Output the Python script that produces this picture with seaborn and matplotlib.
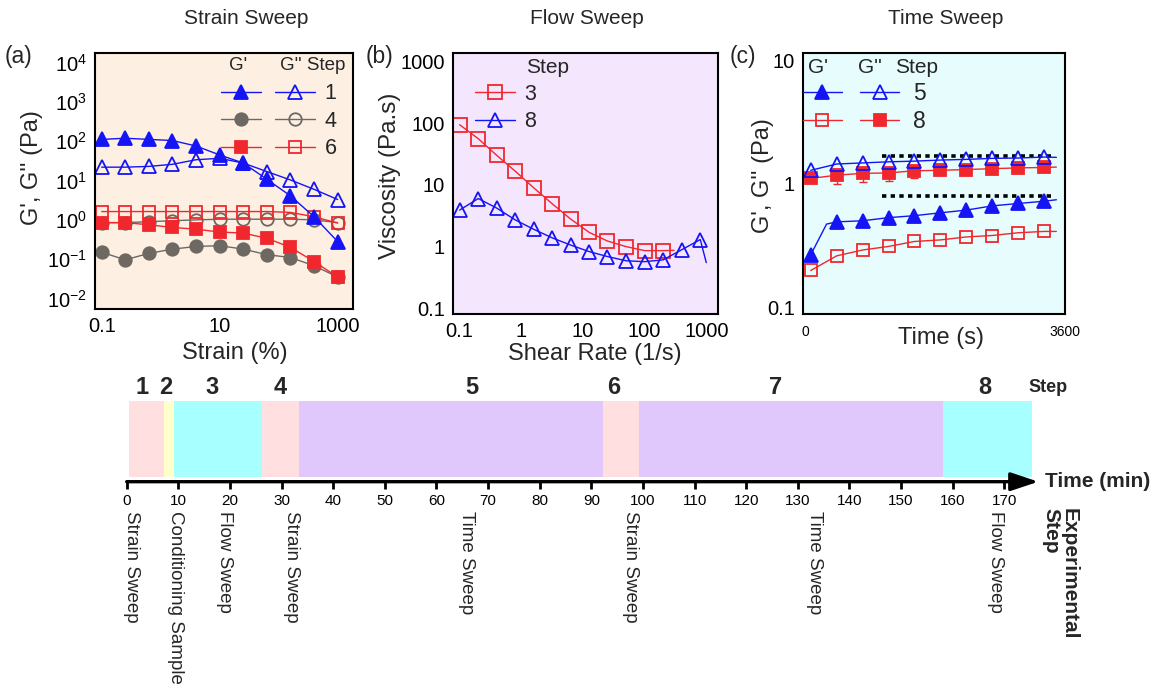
import matplotlib
matplotlib.use("Agg")
import matplotlib.pyplot as plt
from matplotlib.lines import Line2D
from matplotlib.ticker import FixedLocator, FuncFormatter
import numpy as np
import pandas as pd
import seaborn as sns

# ---------------- data ----------------
# (a) strain sweep
strain_pct = [0.1, 0.25, 0.63, 1.58, 3.98, 10, 25.1, 63.1, 158, 398, 1000]
step1_gp = [112, 120, 112, 105, 76, 45, 28, 10.8, 4.1, 1.2, 0.28]
step1_gpp = [22, 22, 23, 26, 34, 37, 28, 17, 10.4, 6.0, 3.3]
step4_gp = [0.15, 0.096, 0.14, 0.18, 0.21, 0.22, 0.18, 0.13, 0.11, 0.068, 0.035]
step4_gpp = [0.85, 0.85, 0.9, 0.95, 1.0, 1.04, 1.04, 1.04, 1.04, 1.0, 0.85]
step6_gp = [0.85, 0.85, 0.75, 0.64, 0.58, 0.49, 0.46, 0.34, 0.20, 0.087, 0.035]
step6_gpp = [1.63, 1.63, 1.63, 1.63, 1.63, 1.63, 1.63, 1.63, 1.55, 1.2, 0.83]

# (b) flow sweep (last point of each list is the end of the fitted line, no marker)
shear_rate_3 = [0.1, 0.2, 0.4, 0.8, 1.6, 3.2, 6.3, 12.6, 25, 50, 100, 200, 300]
visc_3 = [94, 56, 30, 16.6, 8.9, 4.9, 2.8, 1.7, 1.23, 1.0, 0.86, 0.86, 0.87]
shear_rate_8 = [0.1, 0.2, 0.4, 0.8, 1.6, 3.2, 6.3, 12.6, 25, 50, 100, 200, 400, 800, 1000]
visc_8 = [3.9, 6.0, 4.2, 2.7, 1.9, 1.38, 1.06, 0.83, 0.69, 0.59, 0.57, 0.61, 0.89, 1.3, 0.55]

# (c) time sweep (last point = end of line, no marker)
time_s = [70, 430, 790, 1150, 1510, 1870, 2230, 2590, 2950, 3310, 3480]
step5_gp_time = [70, 290, 430, 790, 1150, 1510, 1870, 2230, 2590, 2950, 3310, 3480]
step5_gp = [0.265, 0.47, 0.49, 0.50, 0.53, 0.55, 0.58, 0.61, 0.66, 0.69, 0.72, 0.74]
step5_gpp = [1.28, 1.44, 1.47, 1.50, 1.52, 1.55, 1.57, 1.60, 1.61, 1.64, 1.63]
step8_gp = [0.198, 0.26, 0.29, 0.31, 0.34, 0.35, 0.37, 0.38, 0.40, 0.41, 0.41]
step8_gpp = [1.10, 1.17, 1.21, 1.22, 1.27, 1.28, 1.30, 1.32, 1.34, 1.35, 1.36]
step8_gpp_err = [0, 0.18, 0.18, 0.17, 0.17, 0, 0, 0, 0, 0]
plateau_levels = [1.67, 0.79]
plateau_span = [1066, 3461]

# timeline
step_names = ["1", "2", "3", "4", "5", "6", "7", "8"]
step_start = [0.5, 7.2, 9.2, 26.3, 33.3, 92.2, 99.2, 158.2]
step_end = [7.2, 9.2, 26.3, 33.3, 92.2, 99.2, 158.2, 175.4]
step_num_pos = [2.9, 7.6, 16.5, 29.8, 66.8, 94.3, 125.6, 166.3]
step_types = ["Strain Sweep", "Conditioning Sample", "Flow Sweep", "Strain Sweep",
              "Time Sweep", "Strain Sweep", "Time Sweep", "Flow Sweep"]
step_type_pos = [1.0, 9.4, 19.0, 32.0, 65.9, 97.5, 133.3, 168.2]
time_ticks = list(range(0, 171, 10))

# ---------------- style ----------------
sns.set_theme(style="white")
plt.rcParams['font.family'] = ['Liberation Sans', 'DejaVu Sans']
plt.rcParams['mathtext.fontset'] = 'custom'
plt.rcParams['mathtext.rm'] = 'Liberation Sans'
plt.rcParams['mathtext.it'] = 'Liberation Sans'

BLUE = '#1414f5'
RED = '#f0282d'
GREY = '#6e6862'
PINK = '#ffdfe0'
YELLOW = '#ffffcc'
CYAN = '#a8ffff'
PURPLE = '#e0c8fd'
step_colors = [PINK, YELLOW, CYAN, PINK, PURPLE, PINK, PURPLE, CYAN]

W, H = 1159, 692
fig = plt.figure(figsize=(W / 100, H / 100), dpi=100)


def box(l, t, r, b):
    return [l / W, 1 - b / H, (r - l) / W, (b - t) / H]


def ftext(px, py, s, **kw):
    fig.text(px / W, 1 - py / H, s, **kw)


def style_axes(ax, bg):
    ax.set_facecolor(bg)
    for sp in ax.spines.values():
        sp.set_visible(True)
        sp.set_color('black')
        sp.set_linewidth(1.5)
    ax.tick_params(length=0, labelsize=14.5, pad=6, colors='black')


def series(ax, x, y, color, marker, filled, ms, mark_idx=None, lw=1.0):
    kw = dict(color=color, marker=marker, markersize=ms, linewidth=lw,
              markeredgecolor=color, markeredgewidth=1.3,
              markerfacecolor=color if filled else 'none')
    if mark_idx is not None:
        kw['markevery'] = mark_idx
    sns.lineplot(x=x, y=y, ax=ax, sort=False, estimator=None, **kw)


def handle(color, marker, filled, ms):
    return Line2D([], [], color=color, marker=marker, markersize=ms, linewidth=1.0,
                  markeredgecolor=color, markeredgewidth=1.3,
                  markerfacecolor=color if filled else 'none')


fmt = FuncFormatter(lambda v, p: f"{v:g}")

# ---------------- (a) strain sweep ----------------
axA = fig.add_axes(box(95, 53, 353, 309))
style_axes(axA, '#fdf0e3')
axA.set_xscale('log')
axA.set_yscale('log')
series(axA, strain_pct, step4_gpp, GREY, 'o', False, 9)
series(axA, strain_pct, step6_gpp, RED, 's', False, 9)
series(axA, strain_pct, step1_gpp, BLUE, '^', False, 10)
series(axA, strain_pct, step4_gp, GREY, 'o', True, 9)
series(axA, strain_pct, step6_gp, RED, 's', True, 9)
series(axA, strain_pct, step1_gp, BLUE, '^', True, 10)
axA.set_xlim(0.077, 1820)
axA.set_ylim(10 ** -2.27, 10 ** 4.25)
axA.xaxis.set_major_locator(FixedLocator([0.1, 10, 1000]))
axA.xaxis.set_major_formatter(fmt)
axA.xaxis.set_minor_locator(FixedLocator([]))
axA.yaxis.set_major_locator(FixedLocator([1e-2, 1e-1, 1, 10, 100, 1e3, 1e4]))
axA.yaxis.set_minor_locator(FixedLocator([]))
axA.set_xlabel('')
axA.set_ylabel('')
hA = [handle(BLUE, '^', True, 10), handle(GREY, 'o', True, 9), handle(RED, 's', True, 9),
      handle(BLUE, '^', False, 10), handle(GREY, 'o', False, 9), handle(RED, 's', False, 9)]
axA.legend(hA, ['', '', '', '1', '4', '6'], ncol=2, frameon=False,
           loc='upper left', bbox_to_anchor=(0.49, 0.882), borderpad=0,
           borderaxespad=0, handlelength=1.85, handletextpad=0.45,
           columnspacing=0.2, labelspacing=0.3, fontsize=15.5)
axA.text(0.555, 0.953, "G'", transform=axA.transAxes, ha='center', va='center', fontsize=13.5)
axA.text(0.845, 0.953, "G'' Step", transform=axA.transAxes, ha='center', va='center', fontsize=13.5)

# ---------------- (b) flow sweep ----------------
axB = fig.add_axes(box(453, 53, 718, 314))
style_axes(axB, '#f4e6fc')
axB.set_xscale('log')
axB.set_yscale('log')
series(axB, shear_rate_3, visc_3, RED, 's', False, 10, mark_idx=list(range(12)))
series(axB, shear_rate_8, visc_8, BLUE, '^', False, 10, mark_idx=list(range(14)))
axB.set_xlim(0.078, 1550)
axB.set_ylim(0.081, 1365)
axB.xaxis.set_major_locator(FixedLocator([0.1, 1, 10, 100, 1000]))
axB.xaxis.set_major_formatter(fmt)
axB.xaxis.set_minor_locator(FixedLocator([]))
axB.yaxis.set_major_locator(FixedLocator([0.1, 1, 10, 100, 1000]))
axB.yaxis.set_major_formatter(fmt)
axB.yaxis.set_minor_locator(FixedLocator([]))
axB.set_xlabel('')
axB.set_ylabel('')
hB = [handle(RED, 's', False, 10), handle(BLUE, '^', False, 10)]
axB.legend(hB, ['3', '8'], frameon=False, loc='upper left', bbox_to_anchor=(0.083, 0.882),
           borderpad=0, borderaxespad=0, handlelength=1.85, handletextpad=0.45,
           labelspacing=0.3, fontsize=15.5)
axB.text(0.355, 0.946, "Step", transform=axB.transAxes, ha='center', va='center', fontsize=15)

# ---------------- (c) time sweep ----------------
axC = fig.add_axes(box(803, 53, 1065, 314))
style_axes(axC, '#e6fcfd')
axC.set_yscale('log')
for lvl in plateau_levels:
    axC.hlines(lvl, plateau_span[0], plateau_span[1], colors='black',
               linestyles=(0, (1.2, 1.2)), linewidth=2.6)
axC.errorbar(time_s[:10], step8_gpp[:10], yerr=[step8_gpp_err, [0] * 10], fmt='none',
             ecolor=RED, elinewidth=1.0, capsize=3, capthick=1.0)
series(axC, time_s, step8_gp, RED, 's', False, 9, mark_idx=list(range(10)))
series(axC, time_s, step8_gpp, RED, 's', True, 9, mark_idx=list(range(10)))
series(axC, step5_gp_time, step5_gp, BLUE, '^', True, 9.5, mark_idx=[0] + list(range(2, 11)))
series(axC, time_s, step5_gpp, BLUE, '^', False, 9.5, mark_idx=list(range(10)))
axC.set_xlim(-37, 3600)
axC.set_ylim(0.088, 11.4)
axC.xaxis.set_major_locator(FixedLocator([0, 3600]))
axC.xaxis.set_major_formatter(fmt)
axC.tick_params(axis='x', labelsize=10, pad=8)
axC.yaxis.set_major_locator(FixedLocator([0.1, 1, 10]))
axC.yaxis.set_major_formatter(fmt)
axC.yaxis.set_minor_locator(FixedLocator([]))
axC.set_xlabel('')
axC.set_ylabel('')
hC = [handle(BLUE, '^', True, 9.5), handle(RED, 's', False, 9),
      handle(BLUE, '^', False, 9.5), handle(RED, 's', True, 9)]
axC.legend(hC, ['', '', '5', '8'], ncol=2, frameon=False, loc='upper left',
           bbox_to_anchor=(0.0, 0.89), borderpad=0, borderaxespad=0, handlelength=1.7,
           handletextpad=0.6, columnspacing=0.2, labelspacing=0.25, fontsize=16.5)
axC.text(0.057, 0.946, "G'", transform=axC.transAxes, ha='center', va='center', fontsize=15)
axC.text(0.256, 0.946, "G''", transform=axC.transAxes, ha='center', va='center', fontsize=15)
axC.text(0.435, 0.946, "Step", transform=axC.transAxes, ha='center', va='center', fontsize=15)

# ---------------- titles / labels ----------------
ftext(246, 18, "Strain Sweep", ha='center', va='center', fontsize=15)
ftext(587, 18, "Flow Sweep", ha='center', va='center', fontsize=15)
ftext(946, 18, "Time Sweep", ha='center', va='center', fontsize=15)
ftext(18, 57, "(a)", ha='center', va='center', fontsize=16.5)
ftext(380, 57, "(b)", ha='center', va='center', fontsize=16.5)
ftext(743, 57, "(c)", ha='center', va='center', fontsize=16.5)
ftext(32, 168, "G', G'' (Pa)", ha='center', va='center', rotation=90, fontsize=17)
ftext(390, 176, "Viscosity (Pa.s)", ha='center', va='center', rotation=90, fontsize=17.5)
ftext(763, 176, "G', G'' (Pa)", ha='center', va='center', rotation=90, fontsize=17)
ftext(235, 353, "Strain (%)", ha='center', va='center', fontsize=17)
ftext(595, 354, "Shear Rate (1/s)", ha='center', va='center', fontsize=17)
ftext(941, 338, "Time (s)", ha='center', va='center', fontsize=17)

# ---------------- timeline ----------------
axT = fig.add_axes(box(100, 370, 1159, 692))
axT.set_facecolor('none')
axT.set_xlim((100 - 126.7) / 5.1625, (1159 - 126.7) / 5.1625)
axT.set_ylim(-2.606, 1.384)
dur = [e - s for s, e in zip(step_start, step_end)]
axT.barh(y=0.5275, width=dur, left=step_start, height=0.945, color=step_colors,
         linewidth=0)
for sp in ['top', 'right', 'left', 'bottom']:
    axT.spines[sp].set_visible(False)
axT.spines['bottom'].set_position(('data', 0))
axT.set_yticks([])
axT.set_xticks(time_ticks)
axT.tick_params(axis='x', direction='out', length=5, width=2, labelsize=11, pad=4,
                colors='black', bottom=True)
axT.annotate('', xy=(176.6, 0), xytext=(0, 0),
             arrowprops=dict(arrowstyle='-|>,head_length=0.6,head_width=0.2',
                             mutation_scale=28, lw=2.4, color='black',
                             shrinkA=0, shrinkB=0))
for name, pos in zip(step_names, step_num_pos):
    axT.text(pos, 1.161, name, ha='center', va='center', fontsize=17, fontweight='bold')
axT.text(178.5, 1.17, "Step", ha='center', va='center', fontsize=13, fontweight='bold')
axT.text(177.9, 0.0, "Time (min)", ha='left', va='center', fontsize=15, fontweight='bold')
for name, pos in zip(step_types, step_type_pos):
    axT.text(pos, -0.363, name, ha='center', va='top', rotation=270, fontsize=13.5)
axT.text(180.8, -0.33, "Experimental\nStep", ha='center', va='top', rotation=270,
         fontsize=15, fontweight='bold', multialignment='left', linespacing=0.95)

fig.savefig("out.png", dpi=100)
